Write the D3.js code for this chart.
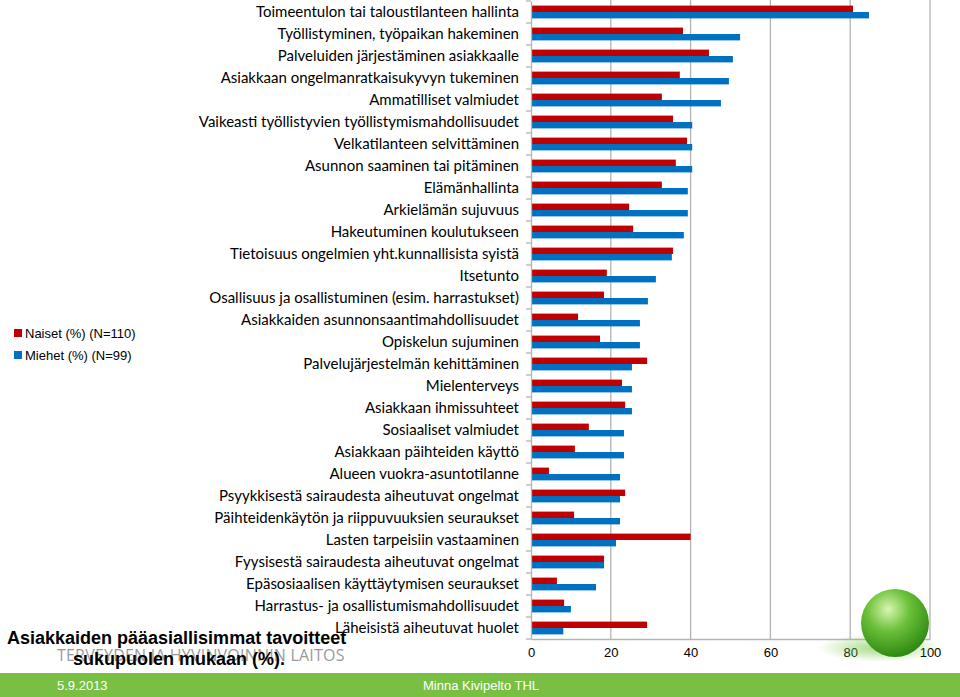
<!DOCTYPE html>
<html>
<head>
<meta charset="utf-8">
<script src="https://d3js.org/d3.v7.min.js"></script>
<style>
  body { margin: 0; background: #fff; }
</style>
</head>
<body>
<script>
// categories, top to bottom
var categories = [
  "Toimeentulon tai taloustilanteen hallinta",
  "Työllistyminen, työpaikan hakeminen",
  "Palveluiden järjestäminen asiakkaalle",
  "Asiakkaan ongelmanratkaisukyvyn tukeminen",
  "Ammatilliset valmiudet",
  "Vaikeasti työllistyvien työllistymismahdollisuudet",
  "Velkatilanteen selvittäminen",
  "Asunnon saaminen tai pitäminen",
  "Elämänhallinta",
  "Arkielämän sujuvuus",
  "Hakeutuminen koulutukseen",
  "Tietoisuus ongelmien yht.kunnallisista syistä",
  "Itsetunto",
  "Osallisuus ja osallistuminen (esim. harrastukset)",
  "Asiakkaiden asunnonsaantimahdollisuudet",
  "Opiskelun sujuminen",
  "Palvelujärjestelmän kehittäminen",
  "Mielenterveys",
  "Asiakkaan ihmissuhteet",
  "Sosiaaliset valmiudet",
  "Asiakkaan päihteiden käyttö",
  "Alueen vuokra-asuntotilanne",
  "Psyykkisestä sairaudesta aiheutuvat ongelmat",
  "Päihteidenkäytön ja riippuvuuksien seuraukset",
  "Lasten tarpeisiin vastaaminen",
  "Fyysisestä sairaudesta aiheutuvat ongelmat",
  "Epäsosiaalisen käyttäytymisen seuraukset",
  "Harrastus- ja osallistumismahdollisuudet",
  "Läheisistä aiheutuvat huolet"
];

var naiset = [80.7, 38.1, 44.6, 37.3, 32.8, 35.6, 39.1, 36.3, 32.8, 24.6, 25.6, 35.6, 19.0, 18.3, 11.8,
              17.3, 29.1, 22.8, 23.6, 14.5, 11.0, 4.5, 23.6, 10.8, 40.0, 18.3, 6.5, 8.3, 29.1];
var miehet = [84.7, 52.4, 50.6, 49.6, 47.6, 40.4, 40.4, 40.4, 39.3, 39.3, 38.3, 35.3, 31.3, 29.3, 27.3,
              27.3, 25.3, 25.3, 25.3, 23.3, 23.3, 22.3, 22.3, 22.3, 21.3, 18.3, 16.3, 10.0, 8.1];

var seriesNames = ["Naiset (%) (N=110)", "Miehet (%) (N=99)"];
var seriesColors = ["#c00000", "#0070c0"];
var xTicks = [0, 20, 40, 60, 80, 100];

var width = 960, height = 697;
var svg = d3.select("body").append("svg").attr("width", width).attr("height", height);

var x = d3.scaleLinear().domain([0, 100]).range([531, 930]);
var y = d3.scaleBand().domain(categories).range([1, 639]);

// grid lines
svg.selectAll(".grid").data(xTicks.slice(1)).enter().append("line")
  .attr("x1", d => x(d)).attr("x2", d => x(d))
  .attr("y1", 0).attr("y2", 639)
  .attr("stroke", "#b3b3b3").attr("stroke-width", 1.3);

// bars
var barH = 6.4;
var rows = categories.map(function(c, i) { return { c: c, n: naiset[i], m: miehet[i] }; });

svg.selectAll(".bn").data(rows).enter().append("rect")
  .attr("x", x(0)).attr("y", d => y(d.c) + y.bandwidth() / 2 - barH)
  .attr("width", d => x(d.n) - x(0)).attr("height", barH)
  .attr("fill", seriesColors[0]);

svg.selectAll(".bm").data(rows).enter().append("rect")
  .attr("x", x(0)).attr("y", d => y(d.c) + y.bandwidth() / 2)
  .attr("width", d => x(d.m) - x(0)).attr("height", barH)
  .attr("fill", seriesColors[1]);

// x axis
var xAxis = svg.append("g").attr("transform", "translate(0,639)")
  .call(d3.axisBottom(x).tickValues(xTicks).tickSize(0).tickPadding(9));
xAxis.select(".domain").attr("stroke", "#b3b3b3").attr("stroke-width", 1.3);
xAxis.selectAll("text").attr("font-family", "Liberation Sans, Arial, sans-serif")
  .attr("font-size", 13).attr("fill", "#000");

// y axis
var yAxis = svg.append("g").attr("transform", "translate(531,0)")
  .call(d3.axisLeft(y).tickSize(0).tickPadding(12));
yAxis.select(".domain").attr("stroke", "#b3b3b3").attr("stroke-width", 1.3);
yAxis.selectAll("text").attr("font-family", "Lato, sans-serif")
  .attr("font-size", 15).attr("fill", "#000");
// small tick marks between bands
svg.selectAll(".yt").data(d3.range(categories.length + 1)).enter().append("line")
  .attr("x1", 526).attr("x2", 531)
  .attr("y1", d => 1 + d * y.step()).attr("y2", d => 1 + d * y.step())
  .attr("stroke", "#b3b3b3").attr("stroke-width", 1.3);

// legend
var leg = svg.selectAll(".leg").data(seriesNames).enter().append("g")
  .attr("transform", (d, i) => "translate(14," + (333 + i * 22) + ")");
leg.append("rect").attr("x", 0).attr("y", -4).attr("width", 8).attr("height", 8)
  .attr("fill", (d, i) => seriesColors[i]);
leg.append("text").attr("x", 11).attr("y", 0).attr("dy", "0.35em")
  .attr("font-family", "Liberation Sans, Arial, sans-serif").attr("font-size", 13)
  .text(d => d);

// footer band
svg.append("rect").attr("x", 0).attr("y", 673).attr("width", width).attr("height", 24)
  .attr("fill", "#78bf43");
svg.append("text").attr("x", 57).attr("y", 690).attr("fill", "#fff")
  .attr("font-family", "Liberation Sans, Arial, sans-serif").attr("font-size", 13).text("5.9.2013");
svg.append("text").attr("x", 423).attr("y", 690).attr("fill", "#fff")
  .attr("font-family", "Liberation Sans, Arial, sans-serif").attr("font-size", 13).text("Minna Kivipelto THL");

svg.append("text").attr("x", 57).attr("y", 661).attr("fill", "#9a9a9a")
  .attr("font-family", "Open Sans, sans-serif").attr("font-size", 16).attr("letter-spacing", 0.2)
  .text("TERVEYDEN JA HYVINVOINNIN LAITOS");

// green sphere logo
var defs = svg.append("defs");
var g1 = defs.append("radialGradient").attr("id", "sph").attr("cx", "40%").attr("cy", "30%").attr("r", "70%");
g1.append("stop").attr("offset", "0%").attr("stop-color", "#d8f5b0");
g1.append("stop").attr("offset", "45%").attr("stop-color", "#6cc13a");
g1.append("stop").attr("offset", "100%").attr("stop-color", "#2e8a12");
var g2 = defs.append("radialGradient").attr("id", "shd");
g2.append("stop").attr("offset", "0%").attr("stop-color", "#7ccb4a").attr("stop-opacity", 0.7);
g2.append("stop").attr("offset", "100%").attr("stop-color", "#7ccb4a").attr("stop-opacity", 0);
svg.append("ellipse").attr("cx", 880).attr("cy", 648).attr("rx", 62).attr("ry", 14).attr("fill", "url(#shd)");
svg.append("circle").attr("cx", 895).attr("cy", 623).attr("r", 34).attr("fill", "url(#sph)");

// title
var title = svg.append("text").attr("font-family", "Liberation Sans, Arial, sans-serif")
  .attr("font-size", 18).attr("font-weight", "bold").attr("fill", "#000");
title.append("tspan").attr("x", 7).attr("y", 644).text("Asiakkaiden pääasiallisimmat tavoitteet");
title.append("tspan").attr("x", 73).attr("y", 665).text("sukupuolen mukaan (%).");
</script>
</body>
</html>
